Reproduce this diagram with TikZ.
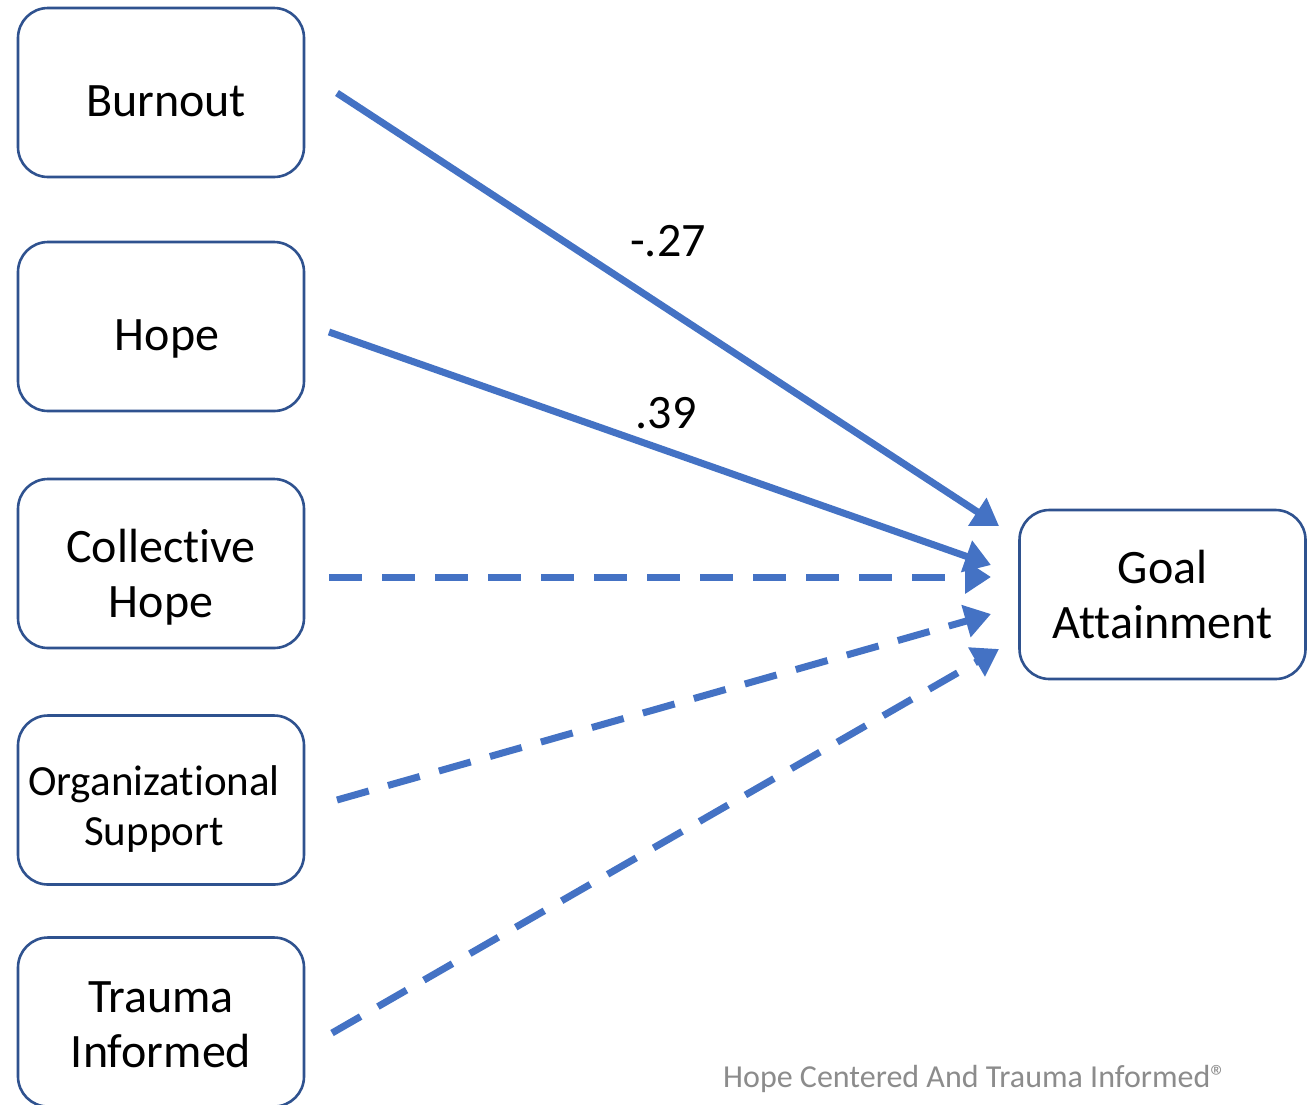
\documentclass[tikz,border=0pt]{standalone}
\usepackage{fontspec}
\setmainfont{Carlito}[Ligatures=NoCommon]
\usetikzlibrary{arrows.meta}
\definecolor{lineblue}{HTML}{4472C4}
\definecolor{boxblue}{HTML}{2F528F}
\definecolor{footgray}{HTML}{8C8C8C}
\begin{document}
\begin{tikzpicture}[x=1pt,y=-1pt,
  box/.style={draw=boxblue, line width=2.6pt, rounded corners=30pt, fill=white,
    minimum width=286pt, minimum height=169pt, inner sep=0pt},
  boxtext/.style={align=center, inner sep=0pt, font=\fontsize{48}{55}\selectfont},
  arr/.style={draw=lineblue, line width=7pt, -{Triangle[length=26pt,width=32pt]}},
  dsh/.style={arr, dash pattern=on 33pt off 20pt},
  lbl/.style={font=\fontsize{48}{52}\selectfont, inner sep=0pt}]
\clip (0,0) rectangle (1316,1104);
\fill[white] (0,0) rectangle (1316,1104);
\node[box] (burnout) at (161,92.5) {};
\node[box] (hope) at (161,326.5) {};
\node[box] (coll) at (161,563.5) {};
\node[box] (org) at (161,800) {};
\node[box] (trauma) at (161,1022) {};
\node[box] (goal) at (1162.5,594.5) {};

\node[boxtext] (burnoutT) at ([shift={(5,9)}]burnout.center) {Burnout};
\node[boxtext] (hopeT) at ([shift={(6,12)}]hope.center) {Hope};
\node[boxtext] (collT) at ([shift={(0,14)}]coll.center) {Collective\\Hope};
\node[boxtext, font=\fontsize{43}{50}\selectfont] (orgT) at ([shift={(-7,9)}]org.center) {Organizational\\Support};
\node[boxtext] (traumaT) at ([shift={(0,3)}]trauma.center) {Trauma\\Informed};
\node[boxtext] (goalT) at (goal.center) {Goal\\Attainment};

\coordinate (s1) at (337,93);
\coordinate (s2) at (329,332);
\coordinate (s3) at (329,577);
\coordinate (s4) at (337,800);
\coordinate (s5) at (332,1033);
\coordinate (e1) at (999,526);
\coordinate (e2) at (991,565);
\coordinate (e3) at (991,577);
\coordinate (e4) at (991,614);
\coordinate (e5) at (999,649);

\draw[arr] (s1) -- (e1);
\draw[arr] (s2) -- (e2);
\draw[dsh] (s3) -- (e3);
\draw[dsh] (s4) -- (e4);
\draw[dsh] (s5) -- (e5);

\node[lbl] (l1) at (668,241) {-.27};
\node[lbl] (l2) at (666,413) {.39};

\node[anchor=base west, inner sep=0pt, text=footgray, font=\fontsize{32}{36}\selectfont] (foot) at (723,1087)
  {Hope Centered And Trauma Informed®};
\end{tikzpicture}
\end{document}
